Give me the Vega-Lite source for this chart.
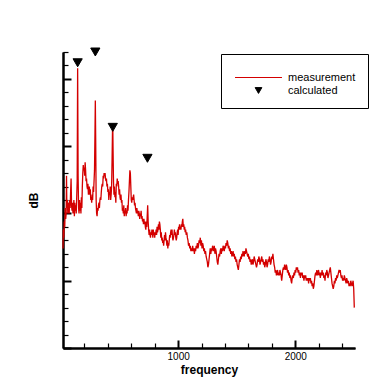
{
  "$schema": "https://vega.github.io/schema/vega-lite/v6.json",
  "autosize": "none",
  "padding": {"left": 63, "top": 52, "right": 35, "bottom": 42},
  "width": 292,
  "height": 296,
  "background": "white",
  "config": {
    "view": {"stroke": null},
    "font": "Liberation Sans",
    "axis": {"grid": false, "domainColor": "black", "domainWidth": 2, "tickColor": "black", "labelColor": "black", "titleColor": "black", "labelFont": "Liberation Sans", "titleFont": "Liberation Sans"}
  },
  "datasets": {
    "m": [
{"f":17,"dB":37},{"f":20,"dB":44},{"f":24,"dB":41},{"f":28,"dB":47},{"f":32,"dB":45},{"f":36,"dB":52},{"f":40,"dB":48},{"f":44,"dB":50},{"f":47,"dB":64},{"f":50,"dB":52},{"f":54,"dB":55},{"f":58,"dB":50},{"f":62,"dB":54},{"f":66,"dB":53},{"f":70,"dB":50},{"f":74,"dB":55},{"f":78,"dB":52},{"f":82,"dB":58},{"f":86,"dB":63},{"f":90,"dB":53},{"f":94,"dB":51},{"f":98,"dB":54},{"f":102,"dB":50},{"f":106,"dB":52},{"f":110,"dB":55},{"f":114,"dB":49},{"f":118,"dB":54},{"f":122,"dB":51},{"f":126,"dB":53},{"f":130,"dB":50},{"f":134,"dB":56},{"f":138,"dB":62},{"f":142,"dB":104},{"f":146,"dB":64},{"f":150,"dB":52},{"f":154,"dB":50},{"f":158,"dB":55},{"f":162,"dB":51},{"f":166,"dB":54},{"f":170,"dB":50},{"f":174,"dB":56},{"f":178,"dB":52},{"f":182,"dB":60},{"f":186,"dB":65},{"f":190,"dB":68},{"f":194,"dB":66},{"f":198,"dB":67},{"f":202,"dB":64},{"f":206,"dB":69},{"f":210,"dB":66},{"f":214,"dB":62},{"f":218,"dB":63},{"f":222,"dB":60},{"f":226,"dB":59},{"f":230,"dB":61},{"f":234,"dB":57},{"f":238,"dB":58},{"f":242,"dB":60},{"f":246,"dB":57},{"f":250,"dB":59},{"f":254,"dB":55},{"f":258,"dB":56},{"f":262,"dB":54},{"f":266,"dB":57},{"f":270,"dB":55},{"f":274,"dB":60},{"f":278,"dB":58},{"f":282,"dB":62},{"f":286,"dB":66},{"f":290,"dB":80},{"f":293,"dB":92},{"f":296,"dB":78},{"f":300,"dB":55},{"f":304,"dB":50},{"f":308,"dB":49},{"f":312,"dB":52},{"f":316,"dB":51},{"f":320,"dB":53},{"f":324,"dB":54},{"f":328,"dB":52},{"f":332,"dB":55},{"f":336,"dB":56},{"f":340,"dB":55},{"f":344,"dB":58},{"f":348,"dB":60},{"f":352,"dB":61},{"f":356,"dB":60},{"f":360,"dB":64},{"f":364,"dB":63},{"f":368,"dB":65},{"f":372,"dB":64},{"f":376,"dB":65},{"f":380,"dB":63},{"f":384,"dB":62},{"f":388,"dB":63},{"f":392,"dB":60},{"f":396,"dB":61},{"f":400,"dB":58},{"f":404,"dB":59},{"f":408,"dB":55},{"f":412,"dB":58},{"f":416,"dB":57},{"f":420,"dB":60},{"f":424,"dB":55},{"f":428,"dB":57},{"f":432,"dB":60},{"f":436,"dB":70},{"f":440,"dB":82},{"f":442,"dB":83},{"f":444,"dB":75},{"f":448,"dB":62},{"f":452,"dB":57},{"f":456,"dB":60},{"f":460,"dB":56},{"f":464,"dB":58},{"f":468,"dB":54},{"f":472,"dB":61},{"f":476,"dB":60},{"f":480,"dB":63},{"f":484,"dB":61},{"f":488,"dB":62},{"f":492,"dB":60},{"f":496,"dB":57},{"f":500,"dB":59},{"f":504,"dB":56},{"f":508,"dB":55},{"f":512,"dB":57},{"f":516,"dB":54},{"f":520,"dB":55},{"f":524,"dB":51},{"f":528,"dB":52},{"f":532,"dB":50},{"f":536,"dB":53},{"f":540,"dB":49},{"f":544,"dB":51},{"f":548,"dB":50},{"f":552,"dB":52},{"f":556,"dB":49},{"f":560,"dB":51},{"f":564,"dB":50},{"f":568,"dB":53},{"f":572,"dB":51},{"f":576,"dB":55},{"f":580,"dB":58},{"f":584,"dB":62},{"f":588,"dB":66},{"f":592,"dB":65},{"f":596,"dB":60},{"f":600,"dB":55},{"f":604,"dB":54},{"f":608,"dB":56},{"f":612,"dB":55},{"f":616,"dB":56},{"f":620,"dB":57},{"f":624,"dB":55},{"f":628,"dB":53},{"f":632,"dB":54},{"f":636,"dB":52},{"f":640,"dB":51},{"f":644,"dB":50},{"f":648,"dB":52},{"f":652,"dB":50},{"f":656,"dB":51},{"f":660,"dB":49},{"f":664,"dB":51},{"f":668,"dB":50},{"f":672,"dB":48},{"f":676,"dB":50},{"f":680,"dB":49},{"f":684,"dB":51},{"f":688,"dB":48},{"f":692,"dB":49},{"f":696,"dB":47},{"f":700,"dB":48},{"f":704,"dB":46},{"f":708,"dB":48},{"f":712,"dB":46},{"f":716,"dB":47},{"f":720,"dB":45},{"f":724,"dB":44},{"f":728,"dB":47},{"f":732,"dB":45},{"f":736,"dB":49},{"f":740,"dB":53},{"f":744,"dB":47},{"f":748,"dB":44},{"f":752,"dB":42},{"f":756,"dB":44},{"f":760,"dB":42},{"f":764,"dB":41},{"f":768,"dB":43},{"f":772,"dB":42},{"f":776,"dB":44},{"f":780,"dB":43},{"f":784,"dB":41},{"f":788,"dB":44},{"f":792,"dB":42},{"f":796,"dB":43},{"f":800,"dB":41},{"f":804,"dB":43},{"f":808,"dB":42},{"f":812,"dB":44},{"f":816,"dB":42},{"f":820,"dB":45},{"f":824,"dB":43},{"f":828,"dB":44},{"f":832,"dB":46},{"f":836,"dB":44},{"f":840,"dB":47},{"f":844,"dB":46},{"f":848,"dB":44},{"f":852,"dB":41},{"f":856,"dB":43},{"f":860,"dB":40},{"f":864,"dB":41},{"f":868,"dB":39},{"f":872,"dB":40},{"f":876,"dB":38},{"f":880,"dB":40},{"f":884,"dB":42},{"f":888,"dB":40},{"f":892,"dB":43},{"f":896,"dB":41},{"f":900,"dB":40},{"f":904,"dB":38},{"f":908,"dB":40},{"f":912,"dB":37},{"f":916,"dB":39},{"f":920,"dB":38},{"f":924,"dB":40},{"f":928,"dB":42},{"f":932,"dB":41},{"f":936,"dB":43},{"f":940,"dB":44},{"f":944,"dB":42},{"f":948,"dB":44},{"f":952,"dB":41},{"f":956,"dB":40},{"f":960,"dB":41},{"f":964,"dB":42},{"f":968,"dB":44},{"f":972,"dB":42},{"f":976,"dB":43},{"f":980,"dB":41},{"f":984,"dB":40},{"f":988,"dB":41},{"f":992,"dB":43},{"f":996,"dB":44},{"f":1000,"dB":42},{"f":1004,"dB":45},{"f":1008,"dB":44},{"f":1012,"dB":46},{"f":1016,"dB":44},{"f":1020,"dB":45},{"f":1024,"dB":44},{"f":1028,"dB":46},{"f":1032,"dB":45},{"f":1036,"dB":47},{"f":1040,"dB":48},{"f":1044,"dB":45},{"f":1048,"dB":46},{"f":1052,"dB":44},{"f":1056,"dB":45},{"f":1060,"dB":43},{"f":1064,"dB":44},{"f":1069,"dB":42},{"f":1074,"dB":43},{"f":1079,"dB":41},{"f":1084,"dB":40},{"f":1089,"dB":38},{"f":1094,"dB":39},{"f":1099,"dB":37},{"f":1104,"dB":38},{"f":1109,"dB":36},{"f":1114,"dB":37},{"f":1119,"dB":36},{"f":1124,"dB":38},{"f":1129,"dB":36},{"f":1134,"dB":37},{"f":1139,"dB":35},{"f":1144,"dB":37},{"f":1149,"dB":36},{"f":1154,"dB":38},{"f":1159,"dB":37},{"f":1164,"dB":39},{"f":1169,"dB":37},{"f":1174,"dB":38},{"f":1179,"dB":40},{"f":1184,"dB":39},{"f":1189,"dB":41},{"f":1194,"dB":38},{"f":1199,"dB":40},{"f":1204,"dB":37},{"f":1209,"dB":39},{"f":1214,"dB":38},{"f":1219,"dB":36},{"f":1224,"dB":37},{"f":1229,"dB":35},{"f":1234,"dB":36},{"f":1239,"dB":34},{"f":1244,"dB":33},{"f":1249,"dB":32},{"f":1254,"dB":30},{"f":1259,"dB":31},{"f":1264,"dB":33},{"f":1269,"dB":35},{"f":1274,"dB":37},{"f":1279,"dB":35},{"f":1284,"dB":37},{"f":1289,"dB":36},{"f":1294,"dB":38},{"f":1299,"dB":37},{"f":1304,"dB":36},{"f":1309,"dB":38},{"f":1314,"dB":35},{"f":1319,"dB":37},{"f":1324,"dB":36},{"f":1329,"dB":34},{"f":1334,"dB":32},{"f":1339,"dB":31},{"f":1344,"dB":33},{"f":1349,"dB":35},{"f":1354,"dB":34},{"f":1359,"dB":36},{"f":1364,"dB":37},{"f":1369,"dB":35},{"f":1374,"dB":37},{"f":1379,"dB":36},{"f":1384,"dB":38},{"f":1389,"dB":37},{"f":1394,"dB":36},{"f":1399,"dB":38},{"f":1404,"dB":37},{"f":1409,"dB":39},{"f":1414,"dB":38},{"f":1419,"dB":40},{"f":1424,"dB":39},{"f":1429,"dB":37},{"f":1434,"dB":38},{"f":1439,"dB":36},{"f":1444,"dB":37},{"f":1449,"dB":35},{"f":1454,"dB":36},{"f":1459,"dB":34},{"f":1464,"dB":35},{"f":1469,"dB":36},{"f":1474,"dB":34},{"f":1479,"dB":35},{"f":1484,"dB":33},{"f":1489,"dB":34},{"f":1494,"dB":32},{"f":1499,"dB":33},{"f":1504,"dB":31},{"f":1509,"dB":30},{"f":1514,"dB":29},{"f":1519,"dB":31},{"f":1524,"dB":33},{"f":1529,"dB":32},{"f":1534,"dB":34},{"f":1539,"dB":33},{"f":1544,"dB":35},{"f":1549,"dB":34},{"f":1554,"dB":36},{"f":1559,"dB":35},{"f":1564,"dB":34},{"f":1569,"dB":36},{"f":1574,"dB":35},{"f":1579,"dB":37},{"f":1584,"dB":36},{"f":1589,"dB":35},{"f":1594,"dB":34},{"f":1599,"dB":35},{"f":1604,"dB":33},{"f":1609,"dB":34},{"f":1614,"dB":32},{"f":1619,"dB":33},{"f":1624,"dB":31},{"f":1629,"dB":32},{"f":1634,"dB":33},{"f":1639,"dB":31},{"f":1644,"dB":32},{"f":1649,"dB":34},{"f":1654,"dB":33},{"f":1659,"dB":32},{"f":1664,"dB":31},{"f":1669,"dB":30},{"f":1674,"dB":31},{"f":1679,"dB":33},{"f":1684,"dB":32},{"f":1689,"dB":34},{"f":1694,"dB":33},{"f":1699,"dB":31},{"f":1704,"dB":32},{"f":1709,"dB":33},{"f":1714,"dB":34},{"f":1719,"dB":32},{"f":1724,"dB":33},{"f":1729,"dB":31},{"f":1734,"dB":32},{"f":1739,"dB":30},{"f":1744,"dB":31},{"f":1749,"dB":33},{"f":1754,"dB":32},{"f":1759,"dB":30},{"f":1764,"dB":31},{"f":1769,"dB":33},{"f":1774,"dB":32},{"f":1779,"dB":34},{"f":1784,"dB":33},{"f":1789,"dB":31},{"f":1794,"dB":32},{"f":1799,"dB":34},{"f":1804,"dB":33},{"f":1809,"dB":35},{"f":1814,"dB":33},{"f":1819,"dB":31},{"f":1824,"dB":30},{"f":1829,"dB":28},{"f":1834,"dB":29},{"f":1839,"dB":27},{"f":1844,"dB":28},{"f":1849,"dB":29},{"f":1854,"dB":27},{"f":1859,"dB":28},{"f":1864,"dB":27},{"f":1869,"dB":29},{"f":1874,"dB":28},{"f":1879,"dB":27},{"f":1884,"dB":25},{"f":1889,"dB":27},{"f":1894,"dB":29},{"f":1899,"dB":30},{"f":1904,"dB":29},{"f":1909,"dB":31},{"f":1914,"dB":30},{"f":1919,"dB":29},{"f":1924,"dB":31},{"f":1929,"dB":30},{"f":1934,"dB":28},{"f":1939,"dB":29},{"f":1944,"dB":27},{"f":1949,"dB":28},{"f":1954,"dB":26},{"f":1959,"dB":27},{"f":1964,"dB":25},{"f":1969,"dB":24},{"f":1974,"dB":26},{"f":1979,"dB":27},{"f":1984,"dB":26},{"f":1989,"dB":28},{"f":1994,"dB":27},{"f":1999,"dB":29},{"f":2004,"dB":28},{"f":2009,"dB":30},{"f":2014,"dB":29},{"f":2019,"dB":30},{"f":2024,"dB":28},{"f":2029,"dB":29},{"f":2034,"dB":27},{"f":2039,"dB":28},{"f":2044,"dB":26},{"f":2049,"dB":28},{"f":2054,"dB":27},{"f":2059,"dB":28},{"f":2064,"dB":26},{"f":2069,"dB":27},{"f":2074,"dB":25},{"f":2079,"dB":27},{"f":2084,"dB":26},{"f":2089,"dB":27},{"f":2094,"dB":25},{"f":2099,"dB":26},{"f":2104,"dB":25},{"f":2109,"dB":26},{"f":2114,"dB":24},{"f":2119,"dB":26},{"f":2124,"dB":25},{"f":2129,"dB":26},{"f":2134,"dB":24},{"f":2139,"dB":25},{"f":2144,"dB":23},{"f":2149,"dB":24},{"f":2154,"dB":22},{"f":2159,"dB":23},{"f":2164,"dB":25},{"f":2169,"dB":27},{"f":2174,"dB":28},{"f":2179,"dB":27},{"f":2184,"dB":29},{"f":2189,"dB":27},{"f":2194,"dB":28},{"f":2199,"dB":29},{"f":2204,"dB":27},{"f":2209,"dB":28},{"f":2214,"dB":26},{"f":2219,"dB":28},{"f":2224,"dB":27},{"f":2229,"dB":29},{"f":2234,"dB":27},{"f":2239,"dB":28},{"f":2244,"dB":26},{"f":2249,"dB":27},{"f":2254,"dB":25},{"f":2259,"dB":28},{"f":2264,"dB":27},{"f":2269,"dB":29},{"f":2274,"dB":28},{"f":2279,"dB":26},{"f":2284,"dB":27},{"f":2289,"dB":28},{"f":2294,"dB":29},{"f":2299,"dB":30},{"f":2304,"dB":28},{"f":2309,"dB":26},{"f":2314,"dB":24},{"f":2319,"dB":23},{"f":2324,"dB":22},{"f":2329,"dB":23},{"f":2334,"dB":25},{"f":2339,"dB":24},{"f":2344,"dB":26},{"f":2349,"dB":25},{"f":2354,"dB":27},{"f":2359,"dB":26},{"f":2364,"dB":27},{"f":2369,"dB":28},{"f":2374,"dB":29},{"f":2379,"dB":28},{"f":2384,"dB":29},{"f":2389,"dB":27},{"f":2394,"dB":26},{"f":2399,"dB":27},{"f":2404,"dB":25},{"f":2409,"dB":26},{"f":2414,"dB":25},{"f":2419,"dB":27},{"f":2424,"dB":26},{"f":2429,"dB":25},{"f":2434,"dB":24},{"f":2439,"dB":26},{"f":2444,"dB":25},{"f":2449,"dB":24},{"f":2454,"dB":25},{"f":2459,"dB":23},{"f":2464,"dB":24},{"f":2469,"dB":23},{"f":2474,"dB":25},{"f":2479,"dB":24},{"f":2484,"dB":23},{"f":2489,"dB":24},{"f":2494,"dB":25},{"f":2499,"dB":22},{"f":2504,"dB":15}
    ],
    "c": [
      {"f": 142, "dB": 106, "series": "calculated"},
      {"f": 293, "dB": 110, "series": "calculated"},
      {"f": 442, "dB": 82, "series": "calculated"},
      {"f": 738, "dB": 70.5, "series": "calculated"}
    ]
  },
  "resolve": {"axis": {"x": "independent", "y": "independent"}},
  "layer": [
    {
      "data": {"name": "m"},
      "mark": {"type": "line", "color": "#d40000", "strokeWidth": 1.3, "clip": false},
      "encoding": {
        "x": {
          "field": "f", "type": "quantitative",
          "scale": {"domain": [17, 2510], "nice": false, "zero": false},
          "axis": {
            "orient": "bottom",
            "values": [200, 400, 600, 800, 1200, 1400, 1600, 1800, 2200, 2400],
            "labels": false,
            "tickSize": -5,
            "tickWidth": 1.2,
            "title": null
          }
        },
        "y": {
          "field": "dB", "type": "quantitative",
          "scale": {"domain": [0, 110], "nice": false, "zero": false},
          "axis": {
            "orient": "left",
            "values": [5, 10, 15, 20, 30, 35, 40, 45, 55, 60, 65, 70, 80, 85, 90, 95, 105, 110],
            "labels": false,
            "tickSize": -5,
            "tickWidth": 1.2,
            "title": "dB",
            "titleFontSize": 12,
            "titleFontWeight": "bold",
            "titlePadding": 22
          }
        }
      }
    },
    {
      "data": {"name": "c"},
      "mark": {"type": "point", "filled": true, "size": 85, "strokeWidth": 1, "opacity": 1, "clip": false},
      "encoding": {
        "x": {
          "field": "f", "type": "quantitative",
          "axis": {
            "orient": "bottom",
            "values": [1000, 2000],
            "format": "d",
            "tickSize": -8,
            "tickWidth": 2,
            "labelFontSize": 10,
            "labelPadding": 11,
            "labelFlush": false,
            "title": "frequency",
            "titleFontSize": 12,
            "titleFontWeight": "bold",
            "titlePadding": 3
          }
        },
        "y": {
          "field": "dB", "type": "quantitative",
          "axis": {
            "orient": "left",
            "values": [0, 25, 50, 75, 100],
            "labels": false,
            "tickSize": -8,
            "tickWidth": 2,
            "title": null
          }
        },
        "fill": {
          "field": "series", "type": "nominal",
          "scale": {"domain": ["measurement", "calculated"], "range": ["#d40000", "black"]},
          "legend": {
            "title": " ",
            "titleFontSize": 4,
            "titlePadding": 2,
            "orient": "none",
            "legendX": 158,
            "legendY": 2,
            "padding": 12,
            "strokeColor": "black",
            "symbolSize": 45,
            "symbolStrokeWidth": 1,
            "symbolOpacity": 1,
            "symbolOffset": 20,
            "labelOffset": 24,
            "labelFontSize": 11,
            "labelFont": "Liberation Sans",
            "labelColor": "black",
            "rowPadding": 1
          }
        },
        "stroke": {
          "field": "series", "type": "nominal",
          "scale": {"domain": ["measurement", "calculated"], "range": ["#d40000", "black"]}
        },
        "shape": {
          "field": "series", "type": "nominal",
          "scale": {"domain": ["measurement", "calculated"], "range": ["M-7,0H7", "triangle-down"]}
        }
      }
    }
  ]
}
